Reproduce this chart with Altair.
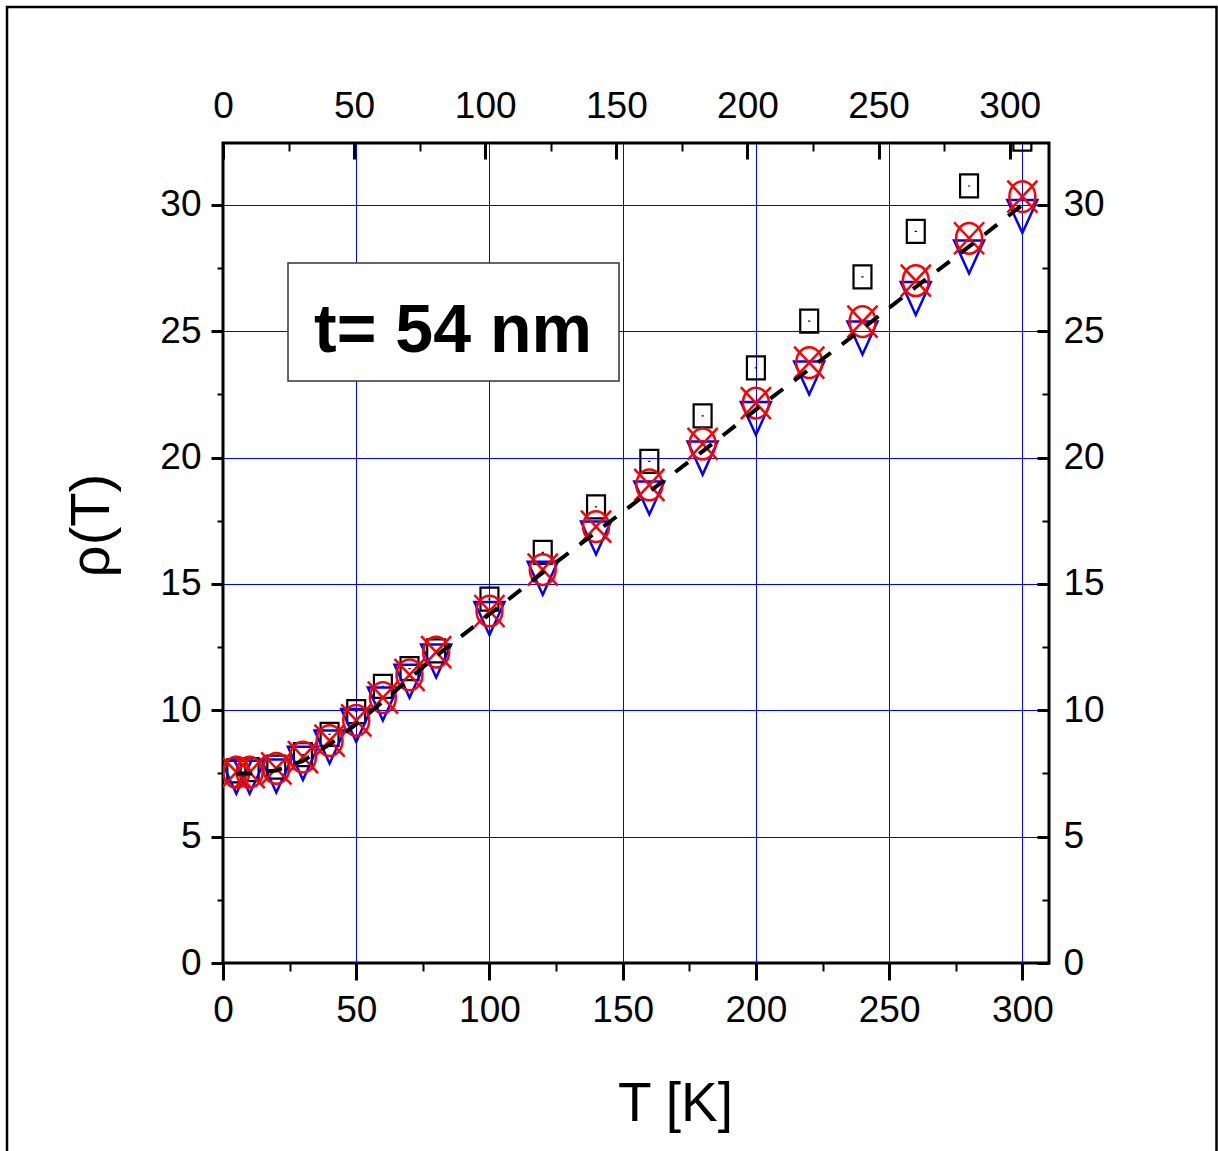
import altair as alt
import pandas as pd

# ---- data ----
T = [5, 10, 20, 30, 40, 50, 60, 70, 80, 100, 120, 140, 160, 180, 200, 220, 240, 260, 280, 300]
rho_square = [7.6, 7.65, 7.75, 8.25, 9.05, 9.95, 10.95, 11.65, 12.35, 14.4, 16.25, 18.05,
              19.85, 21.65, 23.55, 25.4, 27.15, 28.95, 30.75, 32.6]
rho_triangle = [7.35, 7.35, 7.4, 7.9, 8.55, 9.4, 10.25, 11.15, 11.95, 13.63, 15.23, 16.82,
                18.4, 19.98, 21.55, 23.15, 24.73, 26.3, 27.94, 29.54]
rho_circle = [7.55, 7.55, 7.7, 8.15, 8.8, 9.6, 10.5, 11.4, 12.3, 13.93, 15.57, 17.27,
              18.92, 20.54, 22.16, 23.76, 25.38, 27.0, 28.68, 30.33]
rho_fit = [7.5, 7.5, 7.62, 8.0, 8.65, 9.45, 10.35, 11.25, 12.15, 13.8, 15.45, 17.05,
           18.65, 20.25, 21.9, 23.5, 25.1, 26.75, 28.35, 30.0]

x_major = [0, 50, 100, 150, 200, 250, 300]
x_minor = [25, 75, 125, 175, 225, 275]
y_major = [0, 5, 10, 15, 20, 25, 30]
y_minor = [2.5, 7.5, 12.5, 17.5, 22.5, 27.5]
label_text = ["t= 54 nm"]

df = pd.DataFrame({"T": T, "sq": rho_square, "tri": rho_triangle,
                   "circ": rho_circle, "fit": rho_fit})
lab = pd.DataFrame({"label": label_text})

W, H = 826, 820
XDOM = [0, 310]
TOPDOM = [0, 315]
YDOM = [0, 32.45]
FONT = "Liberation Sans, Arial, Helvetica, sans-serif"
LBL = 37


def xsc(dom=XDOM):
    return alt.Scale(domain=dom, nice=False, zero=False)


def ysc():
    return alt.Scale(domain=YDOM, nice=False, zero=False)


def bare(**kw):
    base = dict(domain=False, grid=False, labels=False, ticks=False, tickSize=0, title=None)
    base.update(kw)
    return alt.Axis(**base)


ghost = alt.Chart(df).mark_point(opacity=0)

# grid
grid_layer = ghost.encode(
    x=alt.X("T:Q", scale=xsc(), axis=bare(orient="bottom", values=x_major[1:], grid=True,
                                          gridColor="#0000ff", gridWidth=1)),
    y=alt.Y("circ:Q", scale=ysc(), axis=bare(orient="left", values=y_major[1:], grid=True,
                                             gridColor="#0000ff", gridWidth=1)),
)

# bottom / left major ticks + labels + titles
major_bl = ghost.encode(
    x=alt.X("T:Q", scale=xsc(), axis=alt.Axis(
        orient="bottom", values=x_major, domain=False, grid=False,
        ticks=True, tickSize=17, tickWidth=3, tickColor="black",
        labelFont=FONT, labelFontSize=LBL, labelColor="black", labelPadding=12,
        labelFlush=False, labelOverlap=False,
        title="T [K]", titleFont=FONT, titleFontSize=55, titleFontWeight="normal",
        titleColor="black", titleAnchor="start", titleAlign="center",
        titleX=452, titleY=157, titleBaseline="alphabetic")),
    y=alt.Y("circ:Q", scale=ysc(), axis=alt.Axis(
        orient="left", values=y_major, domain=False, grid=False,
        ticks=True, tickSize=12, tickWidth=3, tickColor="black",
        labelFont=FONT, labelFontSize=LBL, labelColor="black", labelPadding=10,
        labelFlush=False, labelOverlap=False,
        title="ρ(T)", titleFont=FONT, titleFontSize=56, titleFontWeight="normal",
        titleColor="black", titleAngle=270, titleAlign="center", titleBaseline="middle",
        titleX=-132, titleY=382)),
)

minor_bl = ghost.encode(
    x=alt.X("T:Q", scale=xsc(), axis=bare(orient="bottom", values=x_minor, ticks=True,
                                          tickSize=8, tickWidth=2, tickColor="black")),
    y=alt.Y("circ:Q", scale=ysc(), axis=bare(orient="left", values=y_minor, ticks=True,
                                             tickSize=6, tickWidth=2, tickColor="black")),
)

# top / right labels
labels_tr = ghost.encode(
    x=alt.X("T:Q", scale=xsc(TOPDOM), axis=bare(
        orient="top", values=x_major, labels=True, labelFont=FONT, labelFontSize=LBL,
        labelColor="black", labelPadding=26, labelBaseline="alphabetic",
        labelFlush=False, labelOverlap=False)),
    y=alt.Y("circ:Q", scale=ysc(), axis=bare(
        orient="right", values=y_major, labels=True, labelFont=FONT, labelFontSize=LBL,
        labelColor="black", labelPadding=14, labelFlush=False, labelOverlap=False)),
)

# inward ticks on top / right
major_tr = ghost.encode(
    x=alt.X("T:Q", scale=xsc(TOPDOM), axis=bare(orient="top", values=x_major, ticks=True,
                                                tickSize=16, tickWidth=3, tickColor="black",
                                                offset=-16)),
    y=alt.Y("circ:Q", scale=ysc(), axis=bare(orient="right", values=y_major, ticks=True,
                                             tickSize=12, tickWidth=3, tickColor="black",
                                             offset=-12)),
)
minor_tr = ghost.encode(
    x=alt.X("T:Q", scale=xsc(TOPDOM), axis=bare(orient="top", values=x_minor, ticks=True,
                                                tickSize=8, tickWidth=2, tickColor="black",
                                                offset=-8)),
    y=alt.Y("circ:Q", scale=ysc(), axis=bare(orient="right", values=y_minor, ticks=True,
                                             tickSize=7, tickWidth=2, tickColor="black",
                                             offset=-7)),
)

SQUARE = "M-0.78,-1L0.78,-1L0.78,1L-0.78,1ZM0,-0.05L0,0.05"
TRIANGLE = "M-0.91,-1L0.91,-1L0,1Z"
CIRCX = ("M-0.81,0A0.81,0.96 0 1,0 0.81,0A0.81,0.96 0 1,0 -0.81,0Z"
         "M-0.94,-1L0.94,1M0.94,-1L-0.94,1")


def series(field, shape, size, color, sw):
    return alt.Chart(df).mark_point(shape=shape, size=size, filled=False, stroke=color,
                                    strokeWidth=sw, opacity=1, clip=True).encode(
        x=alt.X("T:Q", scale=xsc(), axis=None),
        y=alt.Y(f"{field}:Q", scale=ysc(), axis=None),
    )


sq_layer = series("sq", SQUARE, 529, "black", 2.2)
tri_layer = series("tri", TRIANGLE, 1089, "#0000ff", 2.5)
circ_layer = series("circ", CIRCX, 1024, "#ff0000", 2.5)

fit_layer = alt.Chart(df).mark_line(color="black", strokeWidth=4, strokeDash=[16, 14],
                                    clip=True).encode(
    x=alt.X("T:Q", scale=xsc(), axis=None),
    y=alt.Y("fit:Q", scale=ysc(), axis=None),
)

box = alt.Chart(lab).mark_rect(fill="white", stroke="#333333", strokeWidth=1.5).encode(
    x=alt.value(65), x2=alt.value(396), y=alt.value(120), y2=alt.value(238))
box_text = alt.Chart(lab).mark_text(font=FONT, fontSize=68, fontWeight="bold",
                                    color="black", align="center",
                                    baseline="alphabetic").encode(
    x=alt.value(230), y=alt.value(209), text="label:N")

border = alt.Chart(lab).mark_rect(filled=False, stroke="black", strokeWidth=2.5).encode(
    x=alt.value(-216), x2=alt.value(993.5), y=alt.value(-136), y2=alt.value(1030))

chart = alt.layer(
    grid_layer, major_bl, minor_bl, labels_tr, major_tr, minor_tr,
    sq_layer, tri_layer, circ_layer, fit_layer, box, box_text, border
).resolve_scale(x="independent", y="independent").properties(
    width=W, height=H,
    autosize=alt.AutoSizeParams(type="none"),
    padding={"left": 223, "top": 143, "right": 169, "bottom": 188},
    background="white",
).configure_view(stroke="black", strokeWidth=3)

chart.save("out.html", embed_options={"renderer": "svg", "actions": False})
